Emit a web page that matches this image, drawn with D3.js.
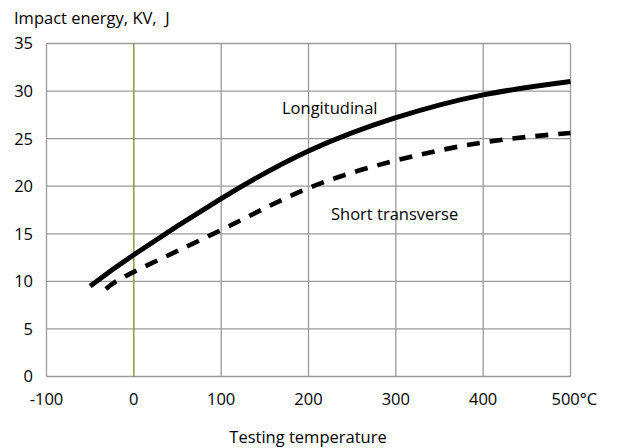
<!DOCTYPE html>
<html>
<head>
<meta charset="utf-8">
<script src="https://cdn.jsdelivr.net/npm/d3@7"></script>
<style>
  body { margin: 0; background: #fff; }
  svg text { font-family: "Open Sans", Lato, sans-serif; fill: #000; white-space: pre; }
</style>
</head>
<body>
<div id="chartDiv"></div>
<script>
// values
var xTicks = [-100, 0, 100, 200, 300, 400, 500];
var xTickLabels = ["-100", "0", "100", "200", "300", "400", "500°C"];
var yTicks = [0, 5, 10, 15, 20, 25, 30, 35];

var longTemps = [-50, 0, 100, 200, 300, 400, 500];
var longitudinal = [9.5, 12.8, 18.7, 23.7, 27.2, 29.6, 31.0];

var shortTemps = [-32, 0, 100, 200, 300, 400, 500];
var shortTransverse = [9.2, 11.0, 15.4, 19.8, 22.7, 24.6, 25.6];

var width = 619, height = 448;
var plotLeft = 46.5, plotRight = 570.5, plotTop = 43.5, plotBottom = 376.5;
var fontSize = "16.5px";

var svg = d3.select("#chartDiv")
            .append("svg")
            .attr("width", width)
            .attr("height", height);

var xScale = d3.scaleLinear().domain([-100, 500]).range([plotLeft, plotRight]);
var yScale = d3.scaleLinear().domain([0, 35]).range([plotBottom, plotTop]);

// grid
svg.selectAll("line.h")
   .data(yTicks)
   .enter()
   .append("line")
   .attr("x1", plotLeft).attr("x2", plotRight)
   .attr("y1", function(d) { return yScale(d); })
   .attr("y2", function(d) { return yScale(d); })
   .attr("stroke", "#9a9a9a")
   .attr("stroke-width", 1.3);

svg.selectAll("line.v")
   .data(xTicks)
   .enter()
   .append("line")
   .attr("y1", plotTop).attr("y2", plotBottom)
   .attr("x1", function(d) { return xScale(d); })
   .attr("x2", function(d) { return xScale(d); })
   .attr("stroke", function(d) { return d === 0 ? "#7d8c2a" : "#9a9a9a"; })
   .attr("stroke-width", 1.3);

// tick labels
svg.selectAll("text.y")
   .data(yTicks)
   .enter()
   .append("text")
   .attr("x", 33)
   .attr("y", function(d) { return yScale(d); })
   .attr("dy", "0.36em")
   .attr("text-anchor", "end")
   .style("font-size", fontSize)
   .text(function(d) { return d; });

svg.selectAll("text.x")
   .data(xTicks)
   .enter()
   .append("text")
   .attr("x", function(d, i) { return i === xTicks.length - 1 ? xScale(d) - 19 : xScale(d); })
   .attr("y", 405)
   .attr("text-anchor", function(d, i) { return i === xTicks.length - 1 ? "start" : "middle"; })
   .style("font-size", fontSize)
   .text(function(d, i) { return xTickLabels[i]; });

// titles
svg.append("text")
   .attr("x", 14).attr("y", 24)
   .style("font-size", fontSize)
   .text("Impact energy, KV,  J");

svg.append("text")
   .attr("x", 308).attr("y", 443)
   .attr("text-anchor", "middle")
   .style("font-size", fontSize)
   .text("Testing temperature");

// curves
var line = d3.line()
             .x(function(d) { return xScale(d[0]); })
             .y(function(d) { return yScale(d[1]); })
             .curve(d3.curveNatural);

svg.append("path")
   .datum(d3.zip(longTemps, longitudinal))
   .attr("d", line)
   .attr("fill", "none")
   .attr("stroke", "#000")
   .attr("stroke-width", 5);

svg.append("path")
   .datum(d3.zip(shortTemps, shortTransverse))
   .attr("d", line)
   .attr("fill", "none")
   .attr("stroke", "#000")
   .attr("stroke-width", 4.6)
   .attr("stroke-dasharray", "13,10");

svg.append("text")
   .attr("x", 282).attr("y", 114)
   .style("font-size", fontSize)
   .text("Longitudinal");

svg.append("text")
   .attr("x", 331).attr("y", 220)
   .style("font-size", fontSize)
   .text("Short transverse");
</script>
</body>
</html>
